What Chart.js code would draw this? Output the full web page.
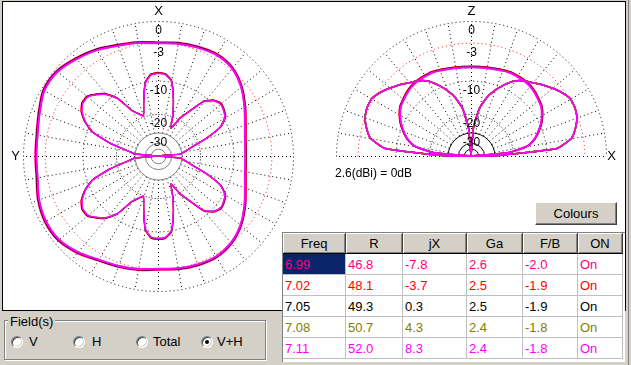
<!DOCTYPE html>
<html><head><meta charset="utf-8">
<script src="https://cdn.jsdelivr.net/npm/chart.js@4.4.1/dist/chart.umd.min.js"></script>
<style>
html,body{margin:0;padding:0;}
body{width:631px;height:365px;background:#D4D0C8;position:relative;overflow:hidden;font-family:"Liberation Sans",Arial,sans-serif;font-size:13px;color:#000;}
#panel{position:absolute;left:2px;top:1px;width:622px;height:308px;background:#fff;border:1px solid #000;}
#edge{position:absolute;left:628px;top:0;width:1px;height:365px;background:#808080;}
canvas{position:absolute;}
#cAz{left:3px;top:2px;}
#cEl{left:320px;top:2px;}
#norm{position:absolute;left:335px;top:165px;font-size:12px;line-height:16px;white-space:nowrap;}
#btn{position:absolute;left:535px;top:202px;width:80px;height:21px;background:#D4D0C8;border:1px solid;border-color:#fff #404040 #404040 #fff;box-shadow:inset -1px -1px 0 #808080;text-align:center;line-height:21px;font-size:13px;}
#grid{position:absolute;left:282px;top:232px;width:342px;height:129px;background:#fff;border-left:1px solid #808080;border-top:1px solid #808080;}
#grid table{border-collapse:separate;border-spacing:0;table-layout:fixed;width:340px;font-size:13px;}
#grid th{height:20px;padding:0;background:#D4D0C8;font-weight:normal;border-right:1px solid #404040;border-bottom:1px solid #000;box-shadow:inset 1px 1px 0 #fff,inset -1px -1px 0 #808080;text-align:center;}
#grid td{height:20px;padding:0 0 0 2px;border-right:1px solid #C0C0C0;border-bottom:1px solid #C0C0C0;white-space:nowrap;overflow:hidden;}
#grid td.sel{background:#0A246A;}
#group{position:absolute;left:4px;top:320px;width:260px;height:38px;border:1px solid #808080;box-shadow:1px 1px 0 #fff,inset 1px 1px 0 #fff;}
#glabel{position:absolute;left:8px;top:314px;padding:0 2px;background:#D4D0C8;font-size:13px;line-height:16px;}
.radio{position:absolute;width:10px;height:10px;border-radius:50%;background:#fff;border:1px solid;border-color:#808080 #fff #fff #808080;box-shadow:inset 1px 1px 0 #404040,inset -1px -1px 0 #D4D0C8;}
.radio.on::after{content:"";position:absolute;left:3px;top:3px;width:4px;height:4px;border-radius:50%;background:#000;}
.rlab{position:absolute;top:334px;font-size:13px;line-height:16px;}
</style>
</head><body>
<div id="panel"></div>
<div id="edge"></div>
<canvas id="cAz" width="315" height="307"></canvas>
<canvas id="cEl" width="304" height="196"></canvas>
<div id="norm"></div>
<div id="btn">Colours</div>
<div id="grid"><table id="tbl"></table></div>
<div id="group"></div>
<div id="glabel">Field(s)</div>
<div id="radios"></div>
<script>
// ---------------- data ----------------
const freqs = ['6.99', '7.02', '7.05', '7.08', '7.11'];
const resistance = [46.8, 48.1, 49.3, 50.7, 52.0];
const reactance = [-7.8, -3.7, 0.3, 4.3, 8.3];
const gain = [2.6, 2.5, 2.5, 2.4, 2.4];
const frontBack = [-2.0, -1.9, -1.9, -1.8, -1.8];
const onState = ['On', 'On', 'On', 'On', 'On'];
const tableHeaders = ['Freq', 'R', 'jX', 'Ga', 'F/B', 'ON'];
const fieldOptions = ['V', 'H', 'Total', 'V+H'];
const selectedField = 'V+H';

const ringDb = [0, -3, -10, -20, -30];
const ringLabels = ['0', '-3', '-10', '-20', '-30'];
const innerRingDb = [-40, -50];
const azAxisLabels = ['X', 'Y'];
const elAxisLabels = ['Z', 'X'];

// azimuth angles (deg, clockwise from X at top)
const azAngles10 = [0,10,20,30,40,50,60,70,80,90,100,110,120,130,140,150,160,170,180,190,200,210,220,230,240,250,260,270,280,290,300,310,320,330,340,350];
const azAngles5 = [0,5,10,15,20,25,30,35,40,45,50,55,60,65,70,75,80,85,90,95,100,105,110,115,120,125,130,135,140,145,150,155,160,165,170,175,180,185,190,195,200,205,210,215,220,225,230,235,240,245,250,255,260,265,270,275,280,285,290,295,300,305,310,315,320,325,330,335,340,345,350,355];
// elevation angles (deg, from right horizon over zenith to left horizon)
const elAngles = [0,5,10,15,20,25,30,35,40,45,50,55,60,65,70,75,80,85,90,95,100,105,110,115,120,125,130,135,140,145,150,155,160,165,170,175,180];

// azimuth, outer lobe (dB)
const azOuter699 = [-2.9,-2.7,-2.5,-2.3,-2.6,-3.6,-5.0,-6.3,-7.1,-7.3,-7.1,-6.3,-5.0,-3.7,-2.8,-2.4,-2.5,-2.7,-2.9,-2.6,-2.3,-1.9,-1.1,-0.5,-0.5,-0.9,-1.5,-1.6,-1.5,-1.0,-0.3,-0.3,-0.9,-1.5,-2.2,-2.6];
const azOuter702 = [-3.0,-2.8,-2.6,-2.4,-2.7,-3.7,-5.0,-6.3,-7.1,-7.3,-7.1,-6.3,-5.0,-3.8,-2.9,-2.5,-2.6,-2.8,-3.0,-2.7,-2.4,-2.0,-1.2,-0.6,-0.6,-1.0,-1.6,-1.7,-1.6,-1.1,-0.4,-0.4,-1.0,-1.6,-2.3,-2.7];
const azOuter705 = [-3.0,-2.8,-2.6,-2.4,-2.7,-3.7,-5.1,-6.4,-7.2,-7.4,-7.2,-6.4,-5.1,-3.8,-2.9,-2.5,-2.6,-2.8,-3.0,-2.7,-2.4,-2.0,-1.2,-0.6,-0.6,-1.0,-1.6,-1.7,-1.6,-1.1,-0.4,-0.4,-1.0,-1.6,-2.3,-2.7];
const azOuter708 = [-3.1,-2.9,-2.7,-2.5,-2.8,-3.8,-5.2,-6.5,-7.3,-7.5,-7.3,-6.5,-5.2,-3.9,-3.0,-2.6,-2.7,-2.9,-3.1,-2.8,-2.5,-2.1,-1.3,-0.7,-0.7,-1.1,-1.7,-1.8,-1.7,-1.2,-0.5,-0.5,-1.1,-1.7,-2.4,-2.8];
const azOuter711 = [-3.1,-2.9,-2.7,-2.5,-2.8,-3.8,-5.2,-6.5,-7.3,-7.5,-7.3,-6.5,-5.2,-3.9,-3.0,-2.6,-2.7,-2.9,-3.1,-2.8,-2.5,-2.1,-1.3,-0.7,-0.7,-1.1,-1.7,-1.8,-1.7,-1.2,-0.5,-0.5,-1.1,-1.7,-2.4,-2.8];

// azimuth, six-petal lobe (dB), -60 = null
const azPetal699 = [-8.2,-8.4,-9.6,-14.0,-19.4,-25.3,-19.4,-15.5,-10.8,-9.2,-8.5,-8.8,-9.4,-11.4,-16.5,-22.8,-27.1,-30.5,-60,-30.5,-27.1,-22.8,-16.5,-11.4,-9.4,-8.8,-8.5,-9.2,-10.8,-15.5,-19.4,-25.3,-19.4,-14.0,-9.6,-8.4,-8.3,-8.5,-10.2,-15.2,-19.6,-18.1,-16.0,-11.1,-8.7,-7.4,-6.4,-6.4,-7.2,-8.8,-11.3,-17.1,-24.9,-29.9,-60,-29.9,-24.9,-17.1,-11.3,-8.8,-7.2,-6.4,-6.4,-7.4,-8.7,-11.1,-16.0,-18.1,-19.6,-15.2,-10.2,-8.5];
const azPetal702 = [-8.2,-8.4,-9.6,-14.0,-19.4,-25.3,-19.4,-15.5,-10.8,-9.2,-8.5,-8.8,-9.4,-11.4,-16.5,-22.8,-27.1,-30.5,-60,-30.5,-27.1,-22.8,-16.5,-11.4,-9.4,-8.8,-8.5,-9.2,-10.8,-15.5,-19.4,-25.3,-19.4,-14.0,-9.6,-8.4,-8.3,-8.5,-10.2,-15.2,-19.6,-18.1,-16.0,-11.1,-8.7,-7.4,-6.4,-6.4,-7.2,-8.8,-11.3,-17.1,-24.9,-29.9,-60,-29.9,-24.9,-17.1,-11.3,-8.8,-7.2,-6.4,-6.4,-7.4,-8.7,-11.1,-16.0,-18.1,-19.6,-15.2,-10.2,-8.5];
const azPetal705 = [-8.3,-8.5,-9.7,-14.1,-19.5,-25.4,-19.5,-15.6,-10.9,-9.3,-8.6,-8.9,-9.5,-11.5,-16.6,-22.9,-27.2,-30.6,-60,-30.6,-27.2,-22.9,-16.6,-11.5,-9.5,-8.9,-8.6,-9.3,-10.9,-15.6,-19.5,-25.4,-19.5,-14.1,-9.7,-8.5,-8.4,-8.6,-10.3,-15.3,-19.7,-18.2,-16.1,-11.2,-8.8,-7.5,-6.5,-6.5,-7.3,-8.9,-11.4,-17.2,-25.0,-30.0,-60,-30.0,-25.0,-17.2,-11.4,-8.9,-7.3,-6.5,-6.5,-7.5,-8.8,-11.2,-16.1,-18.2,-19.7,-15.3,-10.3,-8.6];
const azPetal708 = [-8.4,-8.6,-9.8,-14.2,-19.6,-25.5,-19.6,-15.7,-11.0,-9.4,-8.7,-9.0,-9.6,-11.6,-16.7,-23.0,-27.3,-30.7,-60,-30.7,-27.3,-23.0,-16.7,-11.6,-9.6,-9.0,-8.7,-9.4,-11.0,-15.7,-19.6,-25.5,-19.6,-14.2,-9.8,-8.6,-8.5,-8.7,-10.4,-15.4,-19.8,-18.3,-16.2,-11.3,-8.9,-7.6,-6.6,-6.6,-7.4,-9.0,-11.5,-17.3,-25.1,-30.1,-60,-30.1,-25.1,-17.3,-11.5,-9.0,-7.4,-6.6,-6.6,-7.6,-8.9,-11.3,-16.2,-18.3,-19.8,-15.4,-10.4,-8.7];
const azPetal711 = [-8.4,-8.6,-9.8,-14.2,-19.6,-25.5,-19.6,-15.7,-11.0,-9.4,-8.7,-9.0,-9.6,-11.6,-16.7,-23.0,-27.3,-30.7,-60,-30.7,-27.3,-23.0,-16.7,-11.6,-9.6,-9.0,-8.7,-9.4,-11.0,-15.7,-19.6,-25.5,-19.6,-14.2,-9.8,-8.6,-8.5,-8.7,-10.4,-15.4,-19.8,-18.3,-16.2,-11.3,-8.9,-7.6,-6.6,-6.6,-7.4,-9.0,-11.5,-17.3,-25.1,-30.1,-60,-30.1,-25.1,-17.3,-11.5,-9.0,-7.4,-6.6,-6.6,-7.6,-8.9,-11.3,-16.2,-18.3,-19.8,-15.4,-10.4,-8.7];

// elevation, centre lobe (dB)
const elCentre699 = [-60,-22.0,-14.6,-12.2,-10.7,-9.4,-8.4,-7.6,-7.2,-6.8,-6.5,-6.4,-6.4,-6.4,-6.6,-6.8,-6.9,-7.0,-7.0,-7.0,-6.9,-6.8,-6.6,-6.4,-6.4,-6.4,-6.5,-6.8,-7.2,-7.6,-8.4,-9.4,-10.7,-12.2,-14.6,-22.0,-60];
const elCentre702 = [-60,-22.0,-14.6,-12.2,-10.7,-9.4,-8.4,-7.6,-7.2,-6.8,-6.5,-6.4,-6.4,-6.4,-6.6,-6.8,-6.9,-7.0,-7.0,-7.0,-6.9,-6.8,-6.6,-6.4,-6.4,-6.4,-6.5,-6.8,-7.2,-7.6,-8.4,-9.4,-10.7,-12.2,-14.6,-22.0,-60];
const elCentre705 = [-60,-22.1,-14.7,-12.3,-10.8,-9.5,-8.5,-7.7,-7.3,-6.9,-6.6,-6.5,-6.5,-6.5,-6.7,-6.9,-7.0,-7.1,-7.1,-7.1,-7.0,-6.9,-6.7,-6.5,-6.5,-6.5,-6.6,-6.9,-7.3,-7.7,-8.5,-9.5,-10.8,-12.3,-14.7,-22.1,-60];
const elCentre708 = [-60,-22.2,-14.8,-12.4,-10.9,-9.6,-8.6,-7.8,-7.4,-7.0,-6.7,-6.6,-6.6,-6.6,-6.8,-7.0,-7.1,-7.2,-7.2,-7.2,-7.1,-7.0,-6.8,-6.6,-6.6,-6.6,-6.7,-7.0,-7.4,-7.8,-8.6,-9.6,-10.9,-12.4,-14.8,-22.2,-60];
const elCentre711 = [-60,-22.2,-14.8,-12.4,-10.9,-9.6,-8.6,-7.8,-7.4,-7.0,-6.7,-6.6,-6.6,-6.6,-6.8,-7.0,-7.1,-7.2,-7.2,-7.2,-7.1,-7.0,-6.8,-6.6,-6.6,-6.6,-6.7,-7.0,-7.4,-7.8,-8.6,-9.6,-10.9,-12.4,-14.8,-22.2,-60];
// elevation, side lobes (dB) - identical for all five frequencies
const elSide = [-30,-7.7,-4.8,-3.8,-3.1,-2.8,-2.8,-3.4,-4.2,-5.0,-5.9,-6.6,-7.6,-9.3,-11.3,-13.8,-17.7,-26.7,-60,-26.7,-17.7,-13.8,-11.3,-9.3,-7.6,-6.6,-5.9,-5.0,-4.2,-3.4,-2.8,-2.8,-3.1,-3.8,-4.8,-7.7,-30];

const series = [
  {freq: '6.99', color: '#FF0080', outer: azOuter699, petal: azPetal699, centre: elCentre699, side: elSide},
  {freq: '7.02', color: '#FF0000', outer: azOuter702, petal: azPetal702, centre: elCentre702, side: elSide},
  {freq: '7.05', color: '#000000', outer: azOuter705, petal: azPetal705, centre: elCentre705, side: elSide},
  {freq: '7.08', color: '#808000', outer: azOuter708, petal: azPetal708, centre: elCentre708, side: elSide},
  {freq: '7.11', color: '#FF00FF', outer: azOuter711, petal: azPetal711, centre: elCentre711, side: elSide}
];

// ---------------- helpers ----------------
// ARRL log-periodic radial scale: 0.89 per 2 dB
function rho(db) { return db <= -60 ? 0 : Math.pow(0.89, -db / 2); }
function azPoints(angles, vals) {
  const pts = angles.map((a, i) => { const t = a * Math.PI / 180, r = rho(vals[i]); return {x: r * Math.sin(t), y: r * Math.cos(t)}; });
  pts.push(pts[0]);
  return pts;
}
function elPoints(angles, vals, close) {
  const pts = angles.map((a, i) => { const t = a * Math.PI / 180, r = rho(vals[i]); return {x: r * Math.cos(t), y: r * Math.sin(t)}; });
  if (close) pts.push(pts[0]);
  return pts;
}

function polarGrid(cfg) {
  return {
    id: 'polarGrid',
    beforeDatasetsDraw(chart) {
      const ctx = chart.ctx, xs = chart.scales.x, ys = chart.scales.y;
      const cx = xs.getPixelForValue(0) + 0.5, cy = ys.getPixelForValue(0) + 0.5;
      const R = xs.getPixelForValue(1) - xs.getPixelForValue(0);
      ctx.save();
      ctx.lineWidth = 1;
      const r0 = R * rho(ringDb[ringDb.length - 1]);
      ctx.strokeStyle = '#000';
      ctx.setLineDash([1, 3]);
      const n = cfg.half ? 18 : 35;
      for (let k = 0; k <= n; k++) {
        const t = k * 10 * Math.PI / 180;
        const dx = cfg.half ? Math.cos(t) : Math.sin(t);
        const dy = cfg.half ? -Math.sin(t) : -Math.cos(t);
        ctx.beginPath();
        ctx.moveTo(cx + dx * r0, cy + dy * r0);
        ctx.lineTo(cx + dx * R, cy + dy * R);
        ctx.stroke();
      }
      const a0 = cfg.half ? Math.PI : 0;
      const rings = [
        {db: ringDb[0], color: '#000', dash: [1, 3]},
        {db: ringDb[1], color: '#FF0000', dash: [1, 3]},
        {db: ringDb[2], color: '#000', dash: [1, 3]},
        {db: ringDb[3], color: '#000', dash: [1, 2]},
        {db: ringDb[4], color: cfg.innerColor, dash: []},
        {db: innerRingDb[0], color: cfg.innerColor, dash: []},
        {db: innerRingDb[1], color: cfg.innerColor, dash: []}
      ];
      rings.forEach(g => {
        ctx.strokeStyle = g.color;
        ctx.setLineDash(g.dash);
        ctx.beginPath();
        ctx.arc(cx, cy, R * rho(g.db), a0, 2 * Math.PI);
        ctx.stroke();
      });
      ctx.restore();
    },
    afterDatasetsDraw(chart) {
      const ctx = chart.ctx, xs = chart.scales.x, ys = chart.scales.y;
      const cx = xs.getPixelForValue(0) + 0.5, cy = ys.getPixelForValue(0) + 0.5;
      const R = xs.getPixelForValue(1) - xs.getPixelForValue(0);
      ctx.save();
      ctx.fillStyle = '#000';
      ctx.textAlign = 'center';
      ctx.textBaseline = 'middle';
      ctx.font = '12px "Liberation Sans", Arial, sans-serif';
      ringDb.forEach((db, i) => ctx.fillText(ringLabels[i], cx, cy - R * rho(db) + 9.5));
      ctx.font = '13px "Liberation Sans", Arial, sans-serif';
      ctx.fillText(cfg.axis[0], cx, cy - R - 10);
      if (cfg.half) ctx.fillText(cfg.axis[1], cx + R + 5, cy);
      else ctx.fillText(cfg.axis[1], cx - R - 8, cy);
      ctx.restore();
    }
  };
}

function baseOptions(xmin, xmax, ymin, ymax) {
  return {
    responsive: false, animation: false, devicePixelRatio: 1, events: [],
    layout: {padding: 0},
    plugins: {legend: {display: false}, tooltip: {enabled: false}},
    elements: {point: {radius: 0}},
    scales: {
      x: {type: 'linear', display: false, min: xmin, max: xmax},
      y: {type: 'linear', display: false, min: ymin, max: ymax}
    }
  };
}

// ---------------- charts ----------------
const PR = 135; // px per 0 dB radius
const azDatasets = [];
const elDatasets = [];
for (let i = series.length - 1; i >= 0; i--) {
  const s = series[i];
  const top = i === series.length - 1;
  azDatasets.push({data: azPoints(azAngles10, s.outer), showLine: true, borderColor: s.color, borderWidth: top ? 2 : 1.5, tension: 0.3, fill: false, pointRadius: 0});
  azDatasets.push({data: azPoints(azAngles5, s.petal), showLine: true, borderColor: s.color, borderWidth: top ? 1.5 : 1.2, tension: 0.15, fill: false, pointRadius: 0});
  elDatasets.push({data: elPoints(elAngles, s.centre, false), showLine: true, borderColor: s.color, borderWidth: top ? 2 : 1.5, tension: 0.2, fill: false, pointRadius: 0});
  elDatasets.push({data: elPoints(elAngles, s.side, true), showLine: true, borderColor: s.color, borderWidth: 1.5, tension: 0.15, fill: false, pointRadius: 0});
}

new Chart(document.getElementById('cAz'), {
  type: 'scatter',
  data: {datasets: azDatasets},
  options: baseOptions(-155 / PR, 160 / PR, -153 / PR, 154 / PR),
  plugins: [polarGrid({half: false, innerColor: '#808080', axis: azAxisLabels})]
});

new Chart(document.getElementById('cEl'), {
  type: 'scatter',
  data: {datasets: elDatasets},
  options: baseOptions(-151 / PR, 153 / PR, -42 / PR, 154 / PR),
  plugins: [polarGrid({half: true, innerColor: '#000', axis: elAxisLabels})]
});

// ---------------- texts / table / controls ----------------
document.getElementById('norm').textContent = gain[0].toFixed(1) + '(dBi) = 0dB';

const colW = [63, 57, 64, 56, 55, 45];
let html = '<colgroup>' + colW.map(w => '<col style="width:' + w + 'px">').join('') + '</colgroup>';
html += '<tr>' + tableHeaders.map(h => '<th>' + h + '</th>').join('') + '</tr>';
series.forEach((s, i) => {
  const cells = [freqs[i], resistance[i].toFixed(1), reactance[i].toFixed(1), gain[i].toFixed(1), frontBack[i].toFixed(1), onState[i]];
  html += '<tr>' + cells.map((c, k) => '<td' + (i === 0 && k === 0 ? ' class="sel"' : '') + ' style="color:' + s.color + '">' + c + '</td>').join('') + '</tr>';
});
document.getElementById('tbl').innerHTML = html;

const radioX = [11, 73, 136, 201];
const labelX = [29, 92, 153, 217];
let rh = '';
fieldOptions.forEach((f, i) => {
  rh += '<div class="radio' + (f === selectedField ? ' on' : '') + '" style="left:' + radioX[i] + 'px;top:336px"></div>';
  rh += '<div class="rlab" style="left:' + labelX[i] + 'px">' + f + '</div>';
});
document.getElementById('radios').innerHTML = rh;
</script>
</body></html>
